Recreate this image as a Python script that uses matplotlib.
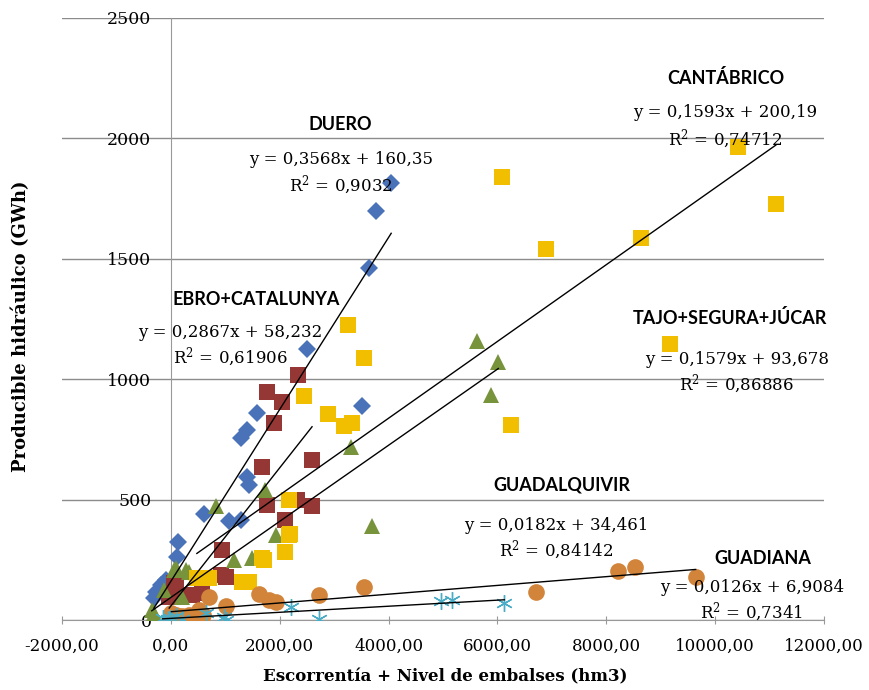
import matplotlib.pyplot as plt
import numpy as np

# --- data ---
duero_x = [-313, -276, -184, -92, 110, 129, 607, 1067, 1288, 1398, 1435, 1288, 1398, 1582, 2502, 3514, 3643, 3772, 4048]
duero_y = [91, 116, 145, 166, 261, 324, 438, 409, 413, 593, 560, 755, 788, 859, 1124, 888, 1461, 1697, 1813]

ebro_x = [-30, 55, 92, 239, 386, 570, 920, 938, 1012, 1674, 1766, 1766, 1895, 2042, 2098, 2318, 2337, 2594, 2594]
ebro_y = [95, 153, 145, 104, 104, 112, 187, 290, 178, 635, 477, 946, 817, 905, 415, 498, 1017, 664, 473]

tajo_x = [-350, -313, -129, 55, 92, 202, 276, 331, 828, 1159, 1490, 1564, 1730, 1932, 3312, 3698, 5630, 5887, 6016]
tajo_y = [41, 29, 124, 207, 216, 95, 207, 199, 472, 249, 257, 257, 539, 353, 716, 390, 1158, 934, 1070]

cant_x = [478, 699, 1306, 1435, 1674, 1711, 2098, 2171, 2190, 2171, 2447, 2889, 3183, 3330, 3257, 3551,
          6090, 6256, 6900, 8629, 9163, 10427, 11113]
cant_y = [174, 174, 158, 158, 257, 249, 282, 498, 357, 353, 929, 855, 805, 817, 1224, 1089,
          1838, 809, 1539, 1585, 1145, 1964, 1726]

guadalq_x = [10, 100, 200, 331, 460, 515, 600, 699, 1012, 1619, 1803, 1932, 2723, 3551, 6716, 8206, 8519, 9641]
guadalq_y = [30, 20, 15, 21, 25, 41, 20, 95, 58, 108, 83, 75, 104, 137, 116, 203, 220, 178]

guadiana_x = [-150, -60, 0, 100, 200, 644, 975, 1012, 2208, 2730, 4968, 5170, 6127]
guadiana_y = [10, 5, 8, 15, 5, 29, 12, 2, 54, 4, 79, 83, 71]

# trend line coefficients (slope, intercept) as printed on the chart
trend_coef = {
    'DUERO': (0.3568, 160.35),
    'EBRO': (0.2867, 58.232),
    'TAJO': (0.1579, 93.678),
    'CANT': (0.1593, 200.19),
    'GUADALQ': (0.0182, 34.461),
    'GUADIANA': (0.0126, 6.9084),
}

x_ticks = [-2000, 0, 2000, 4000, 6000, 8000, 10000, 12000]
y_ticks = [0, 500, 1000, 1500, 2000, 2500]

serif = 'DejaVu Serif'
sans = 'Lato'
plt.rcParams['mathtext.fontset'] = 'dejavuserif'

fig = plt.figure(figsize=(8.69, 6.90), dpi=100)
ax = fig.add_axes([0.0713, 0.1014, 0.8770, 0.8732])

series = [
    (duero_x, duero_y, 'D', '#4A72B8', 9.5),
    (ebro_x, ebro_y, 's', '#953735', 12),
    (tajo_x, tajo_y, '^', '#77933C', 12),
    (cant_x, cant_y, 's', '#F2BE00', 12),
    (guadalq_x, guadalq_y, 'o', '#D1843A', 12),
]
for xs, ys, mk, col, ms in series:
    ax.plot(xs, ys, linestyle='none', marker=mk, color=col, markersize=ms,
            markeredgewidth=0, zorder=3)

ax.plot(guadiana_x, guadiana_y, linestyle='none', marker=(6, 2, 0), color='#4BACC6',
        markersize=12, markeredgewidth=1.0, zorder=4)

# trend lines, from min to max x of each series
for xs, key in [(duero_x, 'DUERO'), (ebro_x, 'EBRO'), (tajo_x, 'TAJO'),
                (cant_x, 'CANT'), (guadalq_x, 'GUADALQ'), (guadiana_x, 'GUADIANA')]:
    m, b = trend_coef[key]
    xx = np.array([min(xs), max(xs)])
    ax.plot(xx, m * xx + b, color='black', linewidth=1.0, zorder=5)

ax.set_xlim(-2000, 12000)
ax.set_ylim(0, 2500)
ax.set_xticks(x_ticks)
ax.set_xticklabels([('%.2f' % v).replace('.', ',') for v in x_ticks])
ax.set_yticks(y_ticks)
ax.set_yticklabels([str(v) for v in y_ticks])

ax.spines['top'].set_visible(False)
ax.spines['right'].set_visible(False)
ax.spines['left'].set_position(('data', 0))
ax.spines['left'].set_color('#999999')
ax.spines['bottom'].set_color('#999999')
ax.spines['left'].set_zorder(1)
ax.yaxis.grid(True, color='#8C8C8C', linewidth=1.0)
ax.set_axisbelow(True)

ax.tick_params(axis='y', length=0, pad=14, labelsize=12.5)
ax.tick_params(axis='x', direction='inout', length=6, color='#999999', pad=10, labelsize=12)
for lbl in ax.get_xticklabels() + ax.get_yticklabels():
    lbl.set_fontfamily(serif)

# series names and equations
names = [
    (3109, 2058, 'DUERO'),
    (10193, 2249, 'CANTÁBRICO'),
    (1564, 1328, 'EBRO+CATALUNYA'),
    (10267, 1253, 'TAJO+SEGURA+JÚCAR'),
    (7176, 560, 'GUADALQUIVIR'),
    (10874, 257, 'GUADIANA'),
]
for x, y, t in names:
    ax.text(x, y, t, ha='center', va='center', fontsize=13, fontweight='bold',
            family=sans, zorder=6)

eqs = [
    (3128, 1909, 'y = 0,3568x + 160,35'), (3128, 1805, 'R$^2$ = 0,9032'),
    (10175, 2104, 'y = 0,1593x + 200,19'), (10175, 1996, 'R$^2$ = 0,74712'),
    (1086, 1191, 'y = 0,2867x + 58,232'), (1086, 1091, 'R$^2$ = 0,61906'),
    (10396, 1083, 'y = 0,1579x + 93,678'), (10396, 979, 'R$^2$ = 0,86886'),
    (7084, 394, 'y = 0,0182x + 34,461'), (7084, 290, 'R$^2$ = 0,84142'),
    (10672, 137, 'y = 0,0126x + 6,9084'), (10672, 33, 'R$^2$ = 0,7341'),
]
for x, y, t in eqs:
    ax.text(x, y, t, ha='center', va='center', fontsize=12, family=serif, zorder=6)

fig.text(21 / 869, 1 - 326 / 690, 'Producible hidráulico (GWh)', rotation=90,
         ha='center', va='center', fontsize=13, fontweight='bold', family=serif)
fig.text(445 / 869, 1 - 677 / 690, 'Escorrentía + Nivel de embalses (hm3)',
         ha='center', va='center', fontsize=12, fontweight='bold', family=serif)

fig.savefig('out.png', dpi=100)
